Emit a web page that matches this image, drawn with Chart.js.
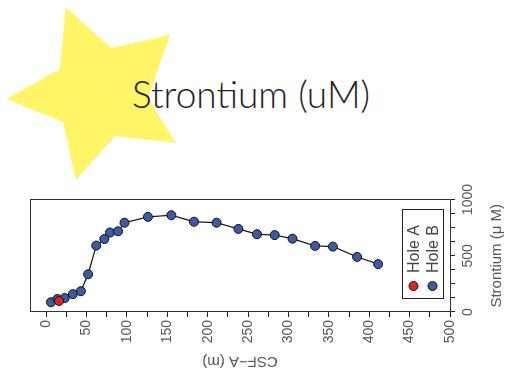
<!DOCTYPE html>
<html>
<head>
<meta charset="utf-8">
<script src="https://cdn.jsdelivr.net/npm/chart.js@4.4.0/dist/chart.umd.min.js"></script>
<style>
  body { margin: 0; width: 513px; height: 374px; overflow: hidden; background: #fff; position: relative; }
  #estrella { position: absolute; left: 0; top: 0; }
  #titulo { position: absolute; left: 132px; top: 75px; font-family: Lato, sans-serif; font-weight: 300; font-size: 37px; line-height: 37px; color: #222; white-space: nowrap; }
  #caja { position: absolute; left: 0; top: 374px; width: 195px; height: 513px; transform-origin: 0 0; transform: rotate(-90deg); }
</style>
</head>
<body>
<svg id="estrella" width="200" height="190">
  <polygon points="65.7,7.3 111,48 170,35 148,98 176,143 115,136 76,180 63,122 6.7,99 60,69" fill="#fff566"/>
</svg>
<div id="titulo">Strontium (uM)</div>
<div id="caja"><canvas id="grafico" width="195" height="513"></canvas></div>
<script>
// Datos: profundidad CSF-A (m) y estroncio (uM)
const holeADepth = [16];
const holeASr = [98];
const holeBDepth = [6, 14, 23, 33, 43, 52, 62, 72, 79, 89, 97, 126, 155, 183, 211, 238, 261, 283, 305, 333, 355, 385, 411];
const holeBSr = [87, 116, 124, 159, 185, 336, 591, 649, 707, 718, 794, 846, 861, 803, 794, 739, 692, 684, 652, 588, 582, 490, 426];

// Etiquetas de los ejes
const depthLabels = [0, 50, 100, 150, 200, 250, 300, 350, 400, 450, 500];
const srLabels = [0, 500, 1000];

const puntos = (prof, sr) => prof.map((d, i) => ({ x: sr[i], y: d }));

// Marco alrededor del area del grafico
const marco = {
  id: 'marco',
  beforeDatasetsDraw(chart) {
    const { ctx, chartArea } = chart;
    ctx.save();
    ctx.strokeStyle = '#333';
    ctx.lineWidth = 1;
    ctx.strokeRect(Math.round(chartArea.left) + 0.5, Math.round(chartArea.top) + 0.5,
      Math.round(chartArea.width), Math.round(chartArea.height));
    ctx.restore();
  }
};

// Leyenda dentro del grafico, abajo a la derecha
const leyenda = {
  id: 'leyenda',
  afterDatasetsDraw(chart) {
    const { ctx, chartArea } = chart;
    const w = 89, h = 41;
    const x0 = Math.round(chartArea.right - 10 - w);
    const y0 = Math.round(chartArea.bottom - 7 - h);
    ctx.save();
    ctx.fillStyle = '#fff';
    ctx.fillRect(x0, y0, w, h);
    ctx.strokeStyle = '#222';
    ctx.lineWidth = 1;
    ctx.strokeRect(x0 + 0.5, y0 + 0.5, w, h);
    chart.data.datasets.forEach((ds, i) => {
      const cy = y0 + 11.5 + i * 19;
      ctx.beginPath();
      ctx.arc(x0 + 13, cy, 4.5, 0, Math.PI * 2);
      ctx.fillStyle = ds.pointBackgroundColor;
      ctx.fill();
      ctx.strokeStyle = ds.pointBorderColor;
      ctx.stroke();
      ctx.fillStyle = '#444';
      ctx.font = '16px "Liberation Sans"';
      ctx.textBaseline = 'middle';
      ctx.fillText(ds.label, x0 + 26, cy + 1);
    });
    ctx.restore();
  }
};

Chart.defaults.font.family = '"Liberation Sans", Arial, sans-serif';
Chart.defaults.font.size = 14;
Chart.defaults.color = '#555';

new Chart(document.getElementById('grafico'), {
  type: 'scatter',
  data: {
    datasets: [
      {
        label: 'Hole A',
        data: puntos(holeADepth, holeASr),
        showLine: false,
        pointRadius: 4.5,
        pointBackgroundColor: '#e8231f',
        pointBorderColor: '#111',
        pointBorderWidth: 1
      },
      {
        label: 'Hole B',
        data: puntos(holeBDepth, holeBSr),
        showLine: true,
        borderColor: '#111',
        borderWidth: 1.2,
        pointRadius: 4.5,
        pointBackgroundColor: '#3b5ba6',
        pointBorderColor: '#111',
        pointBorderWidth: 1
      }
    ]
  },
  options: {
    responsive: false,
    animation: false,
    layout: { padding: { top: 30, right: 18, bottom: 0, left: 0 } },
    plugins: { legend: { display: false }, tooltip: { enabled: false } },
    scales: {
      x: {
        type: 'linear',
        position: 'bottom',
        min: 0,
        max: 1000,
        ticks: {
          stepSize: 125,
          autoSkip: false,
          maxRotation: 0,
          padding: 5,
          callback: v => srLabels.includes(v) ? v : ''
        },
        grid: { drawOnChartArea: false, tickLength: 5, color: '#222' },
        border: { color: '#222', width: 1 },
        title: { display: true, text: 'Strontium (μ M)', font: { size: 15 }, padding: { top: 0, bottom: 7 } },
        afterFit: s => { s.height = 63; }
      },
      y: {
        type: 'linear',
        position: 'left',
        reverse: true,
        min: -20,
        max: 500,
        ticks: {
          stepSize: 25,
          includeBounds: false,
          autoSkip: false,
          padding: 3,
          callback: v => depthLabels.includes(v) ? v : ''
        },
        grid: { drawOnChartArea: false, tickLength: 5, color: '#222' },
        border: { color: '#222', width: 1 },
        title: { display: true, text: 'CSF−A (m)', font: { size: 15 }, padding: { top: 4, bottom: 4 } },
        afterFit: s => { s.width = 62; }
      }
    }
  },
  plugins: [marco, leyenda]
});
</script>
</body>
</html>
